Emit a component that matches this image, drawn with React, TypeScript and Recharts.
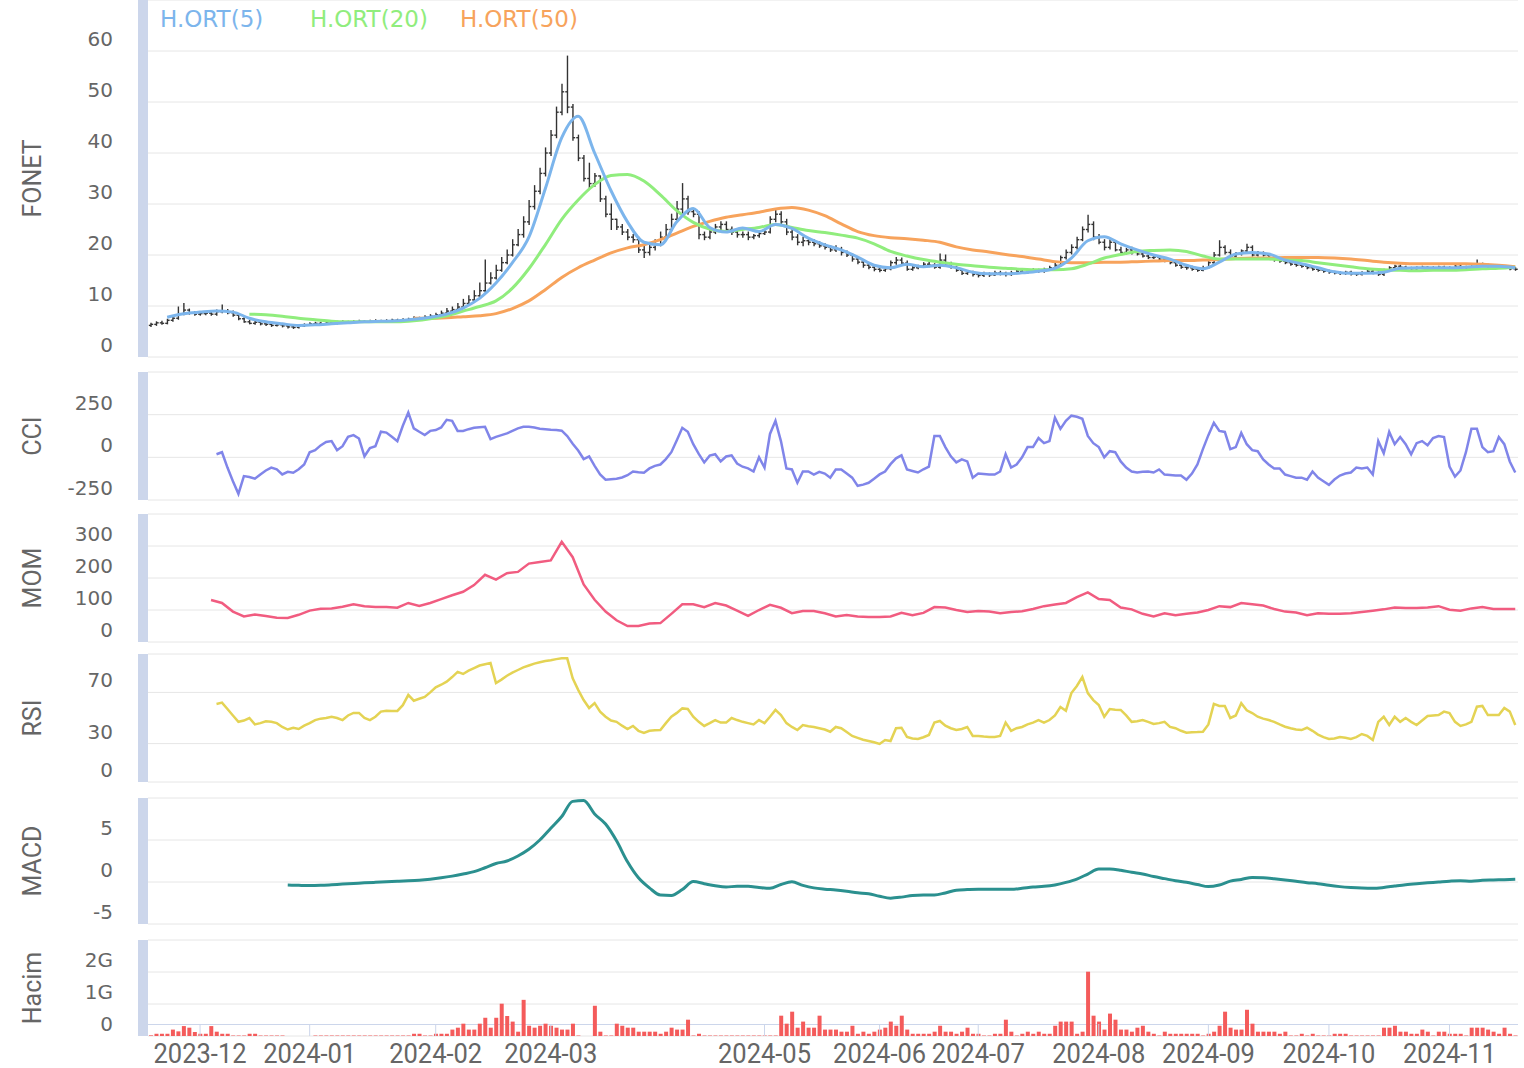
import { Bar, CartesianGrid, ComposedChart, Line, XAxis, YAxis } from 'recharts';

// daily OHLC, 2023-11-20 .. 2024-11-19 (trading days)
const openPrices = [
  6.2, 6.4, 6.7, 6.6, 7.2, 7.6, 8.5, 9.2, 8.6, 8.4,
  8.5, 8.6, 8.4, 8.9, 9.0, 8.7, 8.2, 7.5, 6.9, 6.6,
  6.8, 6.5, 6.4, 6.2, 6.3, 6.1, 5.9, 5.8, 6.1, 6.3,
  6.5, 6.6, 6.5, 6.7, 6.6, 6.8, 6.9, 6.8, 6.9, 7.0,
  6.9, 7.0, 7.1, 7.0, 7.1, 7.2, 7.1, 7.3, 7.4, 7.6,
  7.5, 7.8, 8.0, 8.3, 8.6, 9.0, 9.3, 9.8, 10.5, 11.2,
  12.0, 13.0, 14.5, 15.5, 17.0, 18.5, 20.0, 22.0, 24.0, 26.5,
  29.5, 32.5, 36.0, 40.0, 43.5, 48.0, 52.0, 49.0, 43.0, 39.0,
  35.0, 34.0, 35.5, 31.0, 28.0, 27.0, 25.5, 24.5, 23.5, 23.0,
  21.0, 20.5, 21.5, 22.0, 23.5, 25.0, 27.0, 29.0, 31.0, 28.5,
  28.0, 24.0, 23.5, 24.5, 25.5, 26.0, 25.0, 24.5, 24.0, 24.0,
  23.5, 23.8, 24.2, 24.5, 27.0, 28.0, 26.5, 24.5, 23.5, 22.5,
  22.8, 22.5, 22.2, 21.8, 21.5, 21.0, 21.2, 20.5, 20.0, 19.2,
  18.6, 18.0, 17.6, 17.2, 17.0, 17.3, 18.5, 19.0, 18.4, 17.2,
  17.5, 17.8, 18.2, 18.0, 17.6, 19.0, 18.3, 17.6, 17.0, 16.4,
  16.6, 16.2, 16.0, 16.3, 16.1, 16.5, 16.4, 16.2, 16.5, 16.8,
  16.6, 16.9, 17.0, 16.8, 17.2, 17.5, 18.0, 19.5, 20.5, 21.5,
  23.0, 25.0, 26.0, 23.5, 22.5, 21.5, 22.5, 21.0, 20.5, 21.0,
  20.5, 20.2, 19.8, 19.5, 19.6, 19.2, 19.0, 18.5, 18.0, 17.6,
  17.5, 17.2, 17.0, 17.5, 18.5, 20.0, 21.5, 20.5, 19.8, 20.2,
  20.8, 21.5, 20.0, 20.4, 20.0, 19.5, 19.0, 18.8, 18.5, 18.2,
  18.0, 17.8, 17.5, 17.2, 17.0, 16.8, 16.6, 16.5, 16.4, 16.6,
  16.3, 16.2, 16.5, 16.8, 16.4, 16.2, 17.0, 17.5, 17.8, 17.6,
  17.4, 17.3, 17.5, 17.6, 17.4, 17.5, 17.6, 17.3, 17.5, 17.8,
  17.6, 17.5, 17.7, 18.2, 18.0, 17.8, 17.6, 17.7, 17.5, 17.3,
];
const highPrices = [
  6.6, 6.9, 7.0, 7.4, 7.9, 9.8, 10.5, 9.4, 8.9, 8.8,
  8.9, 8.8, 9.2, 10.2, 9.3, 9.0, 8.4, 7.7, 7.2, 7.0,
  6.9, 6.7, 6.6, 6.5, 6.4, 6.3, 6.1, 6.3, 6.5, 6.7,
  6.8, 6.8, 6.9, 6.9, 7.0, 7.1, 7.0, 7.1, 7.2, 7.1,
  7.2, 7.3, 7.2, 7.3, 7.4, 7.4, 7.5, 7.6, 7.9, 7.8,
  8.1, 8.3, 8.6, 9.0, 9.5, 9.8, 10.5, 11.3, 12.0, 13.0,
  14.5, 19.0, 16.5, 18.0, 19.5, 21.0, 23.0, 25.0, 27.5, 30.7,
  33.6, 37.0, 41.0, 44.4, 49.0, 53.5, 59.0, 49.5, 43.5, 39.5,
  38.0, 36.0, 35.5, 31.5, 30.0, 27.0, 26.0, 25.0, 24.0, 23.5,
  22.0, 22.0, 23.0, 24.5, 26.0, 28.0, 30.5, 34.0, 31.5, 29.0,
  28.5, 24.5, 25.0, 26.0, 26.5, 26.5, 25.5, 25.0, 24.5, 24.5,
  24.0, 24.5, 25.0, 27.5, 29.0, 28.5, 27.0, 25.0, 24.0, 23.5,
  23.2, 23.0, 22.6, 22.2, 21.8, 21.8, 21.5, 20.8, 20.2, 19.5,
  18.9, 18.3, 17.9, 17.5, 17.6, 18.8, 19.5, 19.4, 18.8, 17.8,
  18.0, 18.5, 18.6, 18.3, 20.2, 20.0, 18.6, 17.8, 17.2, 16.9,
  16.8, 16.5, 16.6, 16.5, 16.8, 16.8, 16.6, 16.8, 17.0, 17.1,
  17.1, 17.3, 17.2, 17.4, 17.8, 18.5, 19.8, 21.0, 22.0, 23.5,
  25.5, 27.8, 26.5, 24.0, 23.0, 23.0, 22.8, 21.5, 21.3, 21.5,
  21.0, 20.5, 20.2, 20.0, 19.8, 19.5, 19.2, 18.8, 18.2, 17.9,
  17.8, 17.5, 17.8, 18.8, 20.5, 22.8, 21.8, 21.0, 20.5, 21.0,
  22.1, 21.8, 20.7, 20.6, 20.2, 19.8, 19.3, 19.0, 18.8, 18.5,
  18.2, 18.0, 17.7, 17.4, 17.2, 17.0, 16.8, 16.7, 16.8, 16.8,
  16.5, 16.7, 17.0, 17.0, 16.7, 17.2, 17.7, 18.0, 18.0, 17.8,
  17.6, 17.7, 17.8, 17.7, 17.7, 17.8, 17.8, 17.7, 18.0, 18.0,
  17.8, 17.9, 19.0, 18.4, 18.2, 18.0, 17.9, 17.9, 17.7, 17.5,
];
const lowPrices = [
  6.0, 6.2, 6.4, 6.5, 7.0, 7.4, 8.3, 8.4, 8.2, 8.2,
  8.3, 8.2, 8.2, 8.7, 8.5, 8.0, 7.3, 6.8, 6.5, 6.4,
  6.3, 6.2, 6.0, 6.1, 5.9, 5.7, 5.6, 5.7, 6.0, 6.2,
  6.4, 6.4, 6.4, 6.5, 6.5, 6.7, 6.7, 6.7, 6.8, 6.8,
  6.8, 6.9, 6.9, 6.9, 7.0, 7.0, 7.0, 7.2, 7.3, 7.3,
  7.4, 7.7, 7.9, 8.2, 8.5, 8.9, 9.2, 9.7, 10.3, 11.0,
  11.8, 12.8, 14.3, 15.3, 16.8, 18.3, 19.8, 21.8, 23.5, 26.0,
  29.0, 32.0, 35.5, 39.5, 43.0, 47.5, 47.9, 42.5, 38.5, 34.5,
  33.0, 33.5, 30.5, 27.5, 25.0, 25.0, 24.0, 23.0, 22.5, 20.5,
  19.5, 20.0, 21.0, 21.8, 23.0, 24.8, 26.5, 28.0, 28.0, 27.5,
  23.2, 23.0, 23.2, 24.2, 25.0, 24.5, 24.0, 23.5, 23.5, 23.0,
  23.2, 23.5, 24.0, 24.3, 26.5, 26.0, 24.0, 23.0, 22.0, 21.8,
  22.0, 21.8, 21.5, 21.2, 20.7, 20.7, 20.0, 19.7, 18.8, 18.3,
  17.6, 17.3, 16.9, 16.7, 16.8, 17.1, 18.2, 18.1, 17.0, 17.0,
  17.3, 17.6, 17.7, 17.4, 17.4, 18.0, 17.4, 16.8, 16.2, 16.2,
  15.9, 15.7, 15.8, 15.8, 16.0, 16.1, 15.9, 16.0, 16.3, 16.4,
  16.4, 16.7, 16.6, 16.6, 17.0, 17.3, 17.8, 19.2, 20.2, 21.2,
  22.8, 24.5, 23.0, 22.2, 21.0, 21.2, 20.8, 20.2, 20.2, 20.2,
  20.0, 19.6, 19.3, 19.3, 19.0, 18.7, 18.3, 17.8, 17.4, 17.2,
  17.0, 16.8, 16.9, 17.4, 18.3, 19.8, 20.2, 19.6, 19.6, 20.0,
  20.6, 19.8, 19.8, 19.8, 19.3, 18.8, 18.6, 18.3, 18.0, 17.8,
  17.6, 17.3, 17.0, 16.8, 16.6, 16.4, 16.3, 16.2, 16.2, 16.1,
  16.0, 16.1, 16.4, 16.3, 16.0, 16.0, 16.9, 17.3, 17.4, 17.2,
  17.1, 17.2, 17.4, 17.2, 17.3, 17.4, 17.2, 17.2, 17.4, 17.5,
  17.3, 17.4, 17.6, 17.8, 17.6, 17.4, 17.5, 17.4, 17.1, 17.0,
];
const closePrices = [
  6.4, 6.7, 6.6, 7.2, 7.6, 8.5, 9.2, 8.6, 8.4, 8.5,
  8.6, 8.4, 8.9, 9.0, 8.7, 8.2, 7.5, 6.9, 6.6, 6.8,
  6.5, 6.4, 6.2, 6.3, 6.1, 5.9, 5.8, 6.1, 6.3, 6.5,
  6.6, 6.5, 6.7, 6.6, 6.8, 6.9, 6.8, 6.9, 7.0, 6.9,
  7.0, 7.1, 7.0, 7.1, 7.2, 7.1, 7.3, 7.4, 7.6, 7.5,
  7.8, 8.0, 8.3, 8.6, 9.0, 9.3, 9.8, 10.5, 11.2, 12.0,
  13.0, 14.5, 15.5, 17.0, 18.5, 20.0, 22.0, 24.0, 26.5, 29.5,
  32.5, 36.0, 40.0, 43.5, 48.0, 52.0, 49.0, 43.0, 39.0, 35.0,
  34.0, 35.5, 31.0, 28.0, 27.0, 25.5, 24.5, 23.5, 23.0, 21.0,
  20.5, 21.5, 22.0, 23.5, 25.0, 27.0, 29.0, 31.0, 28.5, 28.0,
  24.0, 23.5, 24.5, 25.5, 26.0, 25.0, 24.5, 24.0, 24.0, 23.5,
  23.8, 24.2, 24.5, 27.0, 28.0, 26.5, 24.5, 23.5, 22.5, 22.8,
  22.5, 22.2, 21.8, 21.5, 21.0, 21.2, 20.5, 20.0, 19.2, 18.6,
  18.0, 17.6, 17.2, 17.0, 17.3, 18.5, 19.0, 18.4, 17.2, 17.5,
  17.8, 18.2, 18.0, 17.6, 19.0, 18.3, 17.6, 17.0, 16.4, 16.6,
  16.2, 16.0, 16.3, 16.1, 16.5, 16.4, 16.2, 16.5, 16.8, 16.6,
  16.9, 17.0, 16.8, 17.2, 17.5, 18.0, 19.5, 20.5, 21.5, 23.0,
  25.0, 26.0, 23.5, 22.5, 21.5, 22.5, 21.0, 20.5, 21.0, 20.5,
  20.2, 19.8, 19.5, 19.6, 19.2, 19.0, 18.5, 18.0, 17.6, 17.5,
  17.2, 17.0, 17.5, 18.5, 20.0, 21.5, 20.5, 19.8, 20.2, 20.8,
  21.5, 20.0, 20.4, 20.0, 19.5, 19.0, 18.8, 18.5, 18.2, 18.0,
  17.8, 17.5, 17.2, 17.0, 16.8, 16.6, 16.5, 16.4, 16.6, 16.3,
  16.2, 16.5, 16.8, 16.4, 16.2, 17.0, 17.5, 17.8, 17.6, 17.4,
  17.3, 17.5, 17.6, 17.4, 17.5, 17.6, 17.3, 17.5, 17.8, 17.6,
  17.5, 17.7, 18.2, 18.0, 17.8, 17.6, 17.7, 17.5, 17.3, 17.2,
];
// volume in millions of shares
const volumeMillions = [
  20, 70, 70, 70, 200, 145, 310, 260, 125, 70,
  70, 310, 135, 70, 70, 15, 15, 15, 70, 70,
  15, 15, 15, 15, 15, 0, 0, 0, 0, 0,
  15, 15, 15, 15, 15, 15, 15, 15, 15, 15,
  15, 15, 15, 15, 15, 15, 15, 15, 70, 70,
  15, 15, 70, 70, 70, 200, 260, 385, 200, 200,
  385, 570, 260, 570, 1010, 625, 450, 135, 1130, 320,
  260, 320, 385, 320, 260, 200, 200, 385, 15, 0,
  0, 945, 135, 15, 15, 385, 320, 260, 260, 135,
  135, 135, 135, 70, 135, 260, 200, 200, 510, 15,
  70, 15, 15, 15, 15, 15, 15, 15, 15, 15,
  15, 15, 15, 15, 15, 635, 385, 760, 260, 450,
  260, 260, 635, 200, 200, 200, 135, 135, 320, 70,
  135, 70, 135, 200, 260, 450, 320, 635, 200, 70,
  70, 70, 70, 135, 320, 135, 135, 70, 135, 260,
  70, 70, 15, 15, 70, 70, 510, 135, 15, 70,
  135, 70, 135, 70, 70, 320, 450, 450, 450, 70,
  135, 2010, 635, 450, 200, 700, 510, 200, 200, 135,
  260, 320, 135, 70, 15, 135, 70, 70, 70, 70,
  70, 70, 15, 70, 135, 320, 760, 260, 200, 200,
  820, 385, 135, 135, 135, 135, 70, 135, 15, 15,
  70, 15, 70, 15, 15, 15, 70, 70, 70, 15,
  15, 15, 15, 15, 15, 260, 260, 320, 135, 135,
  70, 70, 200, 135, 15, 135, 135, 70, 70, 70,
  15, 260, 260, 260, 200, 135, 70, 260, 70, 15,
];

// moving averages, read every 3rd day
const ma5Values = [
  7.8, 8.5, 8.8, 9.0, 8.8, 7.6, 6.9, 6.5, 6.2, 6.3,
  6.5, 6.7, 6.9, 7.0, 7.1, 7.4, 7.8, 8.4, 9.6, 11.5,
  14.5, 18.5, 23.5, 33.0, 43.0, 47.2, 40.0, 32.6, 26.5, 22.5,
  22.0, 26.5, 29.1, 25.4, 24.5, 25.3, 24.6, 26.0, 25.2, 23.3,
  22.0, 21.0, 19.6, 18.0, 17.5, 18.2, 17.7, 18.0, 17.5, 16.6,
  16.3, 16.3, 16.5, 16.8, 17.4, 19.4, 22.8, 23.6, 22.2, 21.0,
  20.0, 19.2, 18.0, 17.3, 18.6, 20.2, 20.5, 20.2, 19.0, 18.3,
  17.5, 16.7, 16.4, 16.4, 16.6, 17.4, 17.5, 17.5, 17.5, 17.6,
  17.8, 17.8, 17.5,
];
const ma20Values = [
  8.4, 8.3, 8.0, 7.6, 7.3, 7.0, 6.9, 6.9, 6.9, 6.9,
  7.1, 7.5, 8.1, 9.0, 9.9, 11.0, 13.5, 17.3, 22.0, 27.0,
  30.8, 33.8, 35.6, 35.8, 34.5, 31.8, 28.7, 26.4, 25.1, 24.6,
  25.0, 25.4, 26.0, 25.4, 24.8, 24.4, 23.9, 23.3, 22.2, 20.7,
  19.8, 19.1, 18.6, 18.2, 17.9, 17.6, 17.4, 17.2, 17.1, 17.1,
  17.3, 18.2, 19.4, 20.1, 20.7, 20.9, 21.0, 20.7, 19.8, 19.2,
  19.2, 19.2, 19.2, 19.0, 18.9, 18.5, 18.1, 17.7, 17.3, 17.1,
  17.0, 16.9, 17.0, 17.0, 17.1, 17.3, 17.4, 17.6,
];
const ma50Values = [
  7.6, 7.6, 7.7, 7.9, 8.1, 8.5, 9.5, 11.0, 13.2, 15.6,
  17.5, 19.0, 20.4, 21.4, 22.0, 23.0, 24.3, 25.6, 26.6, 27.4,
  27.9, 28.4, 29.0, 29.3, 28.8, 27.7, 26.1, 24.6, 23.8, 23.4,
  23.2, 22.9, 22.5, 21.6, 21.0, 20.6, 20.1, 19.7, 19.2, 18.7,
  18.5, 18.5, 18.6, 18.6, 18.7, 18.8, 18.9, 18.9, 19.0, 19.1,
  19.3, 19.4, 19.4, 19.5, 19.5, 19.5, 19.4, 19.2, 18.9, 18.6,
  18.4, 18.3, 18.3, 18.3, 18.3, 18.2, 18.0, 17.7,
];

// daily from day 12
const cciValues = [
  18, 30, -60, -140, -214, -110, -115, -125, -100, -77,
  -60, -70, -100, -85, -90, -70, -42, 30, 42, 70,
  90, 95, 42, 65, 120, 130, 110, 6, 55, 65,
  150, 145, 120, 95, 185, 262, 170, 150, 131, 155,
  160, 175, 220, 214, 155, 155, 165, 173, 176, 179,
  107, 120, 130, 140, 155, 170, 179, 179, 175, 168,
  165, 162, 160, 156, 125, 80, 40, -10, 6, -50,
  -100, -131, -128, -125, -118, -105, -83, -88, -90, -65,
  -50, -42, -10, 30, 100, 173, 150, 77, 20, -30,
  10, 18, -24, 5, 12, -36, -55, -65, -83, 0,
  -60, 137, 214, 95, -65, -71, -149, -83, -83, -101,
  -85, -95, -119, -71, -71, -95, -119, -167, -160, -149,
  -125, -100, -83, -40, -6, 12, -71, -80, -89, -70,
  -54, 125, 125, 60, 6, -30, -12, -24, -119, -95,
  -98, -101, -101, -83, 18, -60, -42, 0, 60, 60,
  113, 83, 95, 232, 167, 214, 244, 238, 226, 125,
  83, 60, 0, 36, 30, -24, -60, -83, -89, -85,
  -83, -89, -71, -101, -104, -107, -107, -131, -95, -42,
  48, 130, 202, 155, 149, 48, 60, 143, 77, 42,
  36, -12, -42, -65, -65, -101, -110, -119, -119, -131,
  -83, -119, -140, -161, -130, -107, -95, -89, -60, -65,
  -60, -101, 95, 24, 149, 77, 119, 77, 18, 83,
  95, 71, 113, 125, 119, -54, -113, -77, 30, 167,
  167, 60, 30, 36, 119, 77, -24, -89,
];
// every 2nd day from day 11
const momValues = [
  131, 122, 95, 80, 86, 81, 76, 75, 85, 98,
  104, 105, 110, 118, 112, 109, 109, 107, 122, 113,
  122, 134, 146, 157, 178, 210, 195, 215, 219, 245,
  250, 255, 313, 265, 180, 132, 95, 68, 50, 50,
  58, 59, 88, 118, 118, 109, 122, 114, 98, 82,
  100, 116, 107, 90, 97, 97, 90, 80, 84, 80,
  78, 78, 80, 91, 84, 91, 109, 108, 100, 94,
  97, 95, 90, 94, 96, 103, 112, 117, 122, 140,
  155, 134, 131, 108, 102, 88, 80, 90, 84, 88,
  92, 100, 112, 109, 122, 118, 114, 103, 95, 92,
  84, 90, 88, 88, 90, 94, 98, 102, 108, 106,
  106, 108, 112, 101, 98, 105, 109, 103, 103, 103,
];
// daily from day 12
const rsiValues = [
  61, 62, 57, 52, 47, 48, 50, 45, 46, 47.5,
  47, 46, 43, 41, 42.4, 41.4, 44, 46, 48.4, 49.5,
  50, 51, 50, 48.4, 52, 54, 54, 50, 48.4, 51,
  55, 55.7, 55.5, 55.5, 60, 68, 63.5, 65, 66.4, 70,
  74, 76, 78.4, 82, 86, 84.4, 87, 89, 91, 92,
  93, 77.3, 80, 83, 85.4, 87.5, 89.5, 91, 92.5, 93.5,
  94.5, 95.2, 96, 96.6, 96.6, 81, 72, 64, 57.8, 61.6,
  55, 51, 48, 47, 44, 41.4, 43.8, 40, 38.3, 40,
  40.4, 40.6, 46, 51, 54, 57.5, 57, 51, 47, 43.8,
  46, 48.4, 46.4, 46.4, 50, 48.4, 47, 46, 45, 48.4,
  46, 51, 56.3, 52.3, 46, 43, 40.6, 44.5, 43.5, 43,
  42, 41, 39.3, 43, 42, 39, 36, 34.5, 33, 32,
  31, 29.7, 32.8, 32, 42, 42.4, 35.2, 34, 33.6, 35,
  36.7, 46.4, 47.7, 44, 42, 40.6, 41.4, 43, 36, 36,
  35.5, 35.2, 35.2, 36, 46.4, 40, 42, 43, 45, 46.4,
  48.4, 46.4, 48.4, 52, 58.6, 55.7, 69.5, 75, 82, 69.5,
  64, 60.2, 51, 57, 56.5, 56.3, 52, 47, 47.5, 48.4,
  47, 45.3, 46, 47, 43, 42, 40, 38.5, 38.8, 39,
  39.3, 45, 61, 59.4, 59.4, 50, 52, 61.6, 56, 53.9,
  51, 49.5, 48.4, 47, 45, 43.2, 42, 41, 40.6, 42.4,
  40, 37, 35, 33.6, 34, 35.2, 34.5, 33.6, 35, 37.5,
  36, 32.8, 47, 51, 44.5, 51, 47, 50, 47, 44.5,
  48, 51.6, 52, 52.3, 55, 53.9, 47, 43.8, 45, 47,
  58.8, 59.4, 52.3, 52.3, 52.3, 57.8, 55, 44.5,
];
// every 2nd day from day 25
const macdValues = [
  -0.36, -0.4, -0.43, -0.4, -0.33, -0.25, -0.18, -0.1, -0.04, 0.02,
  0.08, 0.14, 0.22, 0.34, 0.5, 0.7, 0.95, 1.23, 1.7, 2.2,
  2.5, 3.1, 3.9, 5.0, 6.4, 7.8, 9.6, 9.7, 8.1, 6.9,
  4.9, 2.4, 0.5, -0.7, -1.55, -1.6, -0.9, 0.05, -0.2, -0.45,
  -0.6, -0.5, -0.5, -0.65, -0.75, -0.3, 0.02, -0.4, -0.7, -0.85,
  -0.95, -1.1, -1.28, -1.4, -1.7, -1.92, -1.8, -1.6, -1.55, -1.55,
  -1.3, -0.98, -0.9, -0.85, -0.85, -0.87, -0.87, -0.75, -0.6, -0.52,
  -0.35, -0.05, 0.35, 0.95, 1.55, 1.55, 1.4, 1.15, 0.95, 0.65,
  0.4, 0.15, -0.04, -0.3, -0.55, -0.35, 0.1, 0.3, 0.55, 0.5,
  0.38, 0.24, 0.08, -0.08, -0.2, -0.4, -0.55, -0.65, -0.72, -0.75,
  -0.65, -0.48, -0.32, -0.2, -0.1, 0.0, 0.1, 0.16, 0.1, 0.2,
  0.24, 0.28, 0.32,
];

const monthTicks = [9, 29, 52, 73, 112, 133, 151, 173, 193, 215, 237];
const monthLabels = ['2023-12', '2024-01', '2024-02', '2024-03', '2024-05', '2024-06', '2024-07', '2024-08', '2024-09', '2024-10', '2024-11'];

const maNames = ['H.ORT(5)', 'H.ORT(20)', 'H.ORT(50)'];
const maColors = ['#7cb5ec', '#90ed7d', '#f7a35c'];

const WIDTH = 1524;
const PLOT_LEFT = 148;
const RIGHT_GAP = 6;
const PAD = 4;
const DATE_AXIS_HEIGHT = 40;
const FRAME = '#ccd6eb';
const GRID = '#e6e6e6';
const LABEL = '#666666';
const SANS = "'DejaVu Sans', sans-serif";
const NARROW = "Roboto, 'Noto Sans', sans-serif";

const N = closePrices.length;

function spread(values: number[], start: number, step: number) {
  const out: Record<number, number> = {};
  values.forEach((v, k) => {
    out[start + k * step] = v;
  });
  return out;
}

const ma5At = spread(ma5Values, 3, 3);
const ma20At = spread(ma20Values, 18, 3);
const ma50At = spread(ma50Values, 48, 3);
const cciAt = spread(cciValues, 12, 1);
const momAt = spread(momValues, 11, 2);
const rsiAt = spread(rsiValues, 12, 1);
const macdAt = spread(macdValues, 25, 2);

const rows = closePrices.map((close, i) => ({
  i,
  open: openPrices[i],
  high: highPrices[i],
  low: lowPrices[i],
  close,
  range: [lowPrices[i], highPrices[i]],
  volume: volumeMillions[i] * 1e6,
  ma5: ma5At[i] ?? null,
  ma20: ma20At[i] ?? null,
  ma50: ma50At[i] ?? null,
  cci: cciAt[i] ?? null,
  mom: momAt[i] ?? null,
  rsi: rsiAt[i] ?? null,
  macd: macdAt[i] ?? null,
}));

const monthLabelAt = new Map(monthTicks.map((t, k) => [t, monthLabels[k]]));

function OhlcMark(props: any) {
  const { x, y, width, height, payload } = props;
  if (x == null || y == null) return null;
  const cx = x + width / 2;
  const span = payload.high - payload.low;
  const k = span > 0 ? height / span : 0;
  const yOpen = y + (payload.high - payload.open) * k;
  const yClose = y + (payload.high - payload.close) * k;
  return (
    <g stroke="#333" strokeWidth={1.4}>
      <line x1={cx} x2={cx} y1={y - 0.5} y2={y + height + 0.5} />
      <line x1={cx - 2.2} x2={cx} y1={yOpen} y2={yOpen} />
      <line x1={cx} x2={cx + 2.2} y1={yClose} y2={yClose} />
    </g>
  );
}

function MonthTick(props: any) {
  const { x, y, payload } = props;
  return (
    <g>
      <line x1={x} x2={x} y1={y - 12} y2={y} stroke={FRAME} strokeWidth={1} />
      <text
        x={x}
        y={y + 18}
        textAnchor="middle"
        dominantBaseline="central"
        fill={LABEL}
        fontSize={27}
        fontFamily={NARROW}
        textLength={93}
        lengthAdjust="spacingAndGlyphs"
      >
        {monthLabelAt.get(payload.value)}
      </text>
    </g>
  );
}

function yTick(format: (v: number) => string, hidden: number[] = []) {
  return (props: any) => {
    const { x, y, payload } = props;
    if (hidden.includes(payload.value)) return <g />;
    return (
      <text x={x} y={y - 12} dy="0.35em" textAnchor="end" fill={LABEL} fontSize={20} fontFamily={SANS}>
        {format(payload.value)}
      </text>
    );
  };
}

function PaneTitle(props: any) {
  const vb = props.viewBox ?? { x: 0, y: 0, width: 0, height: 0 };
  const cx = vb.x + 32;
  const cy = vb.y + vb.height / 2;
  return (
    <text x={cx} y={cy} transform={`rotate(-90 ${cx} ${cy})`} textAnchor="middle" dominantBaseline="central" fill={LABEL} fontSize={25} fontFamily={NARROW}>
      {props.text}
    </text>
  );
}

function Pane({
  top,
  plotHeight,
  title,
  domain,
  ticks,
  format,
  hidden,
  showDates = false,
  children,
}: {
  top: number;
  plotHeight: number;
  title: string;
  domain: [number, number];
  ticks: number[];
  format: (v: number) => string;
  hidden?: number[];
  showDates?: boolean;
  children: React.ReactNode;
}) {
  const chartHeight = PAD + plotHeight + (showDates ? DATE_AXIS_HEIGHT : PAD);
  return (
    <div style={{ position: 'absolute', left: 0, top: top - PAD, width: WIDTH, height: chartHeight }}>
      <div style={{ position: 'absolute', left: PLOT_LEFT - 10, top: PAD, width: 10, height: plotHeight, background: FRAME }} />
      {showDates && (
        <div
          style={{
            position: 'absolute',
            left: PLOT_LEFT,
            top: PAD + plotHeight - 12,
            width: WIDTH - PLOT_LEFT - RIGHT_GAP,
            height: 1,
            background: FRAME,
          }}
        />
      )}
      <ComposedChart
        width={WIDTH}
        height={chartHeight}
        data={rows}
        margin={{ top: PAD, right: RIGHT_GAP, bottom: showDates ? 0 : PAD, left: 0 }}
      >
        <CartesianGrid vertical={false} stroke={GRID} />
        <XAxis
          dataKey="i"
          type="number"
          domain={[-0.5, N - 0.5]}
          ticks={showDates ? monthTicks : undefined}
          interval={0}
          hide={!showDates}
          height={DATE_AXIS_HEIGHT}
          axisLine={false}
          tickLine={false}
          tickSize={0}
          tickMargin={0}
          tick={<MonthTick />}
        />
        <YAxis
          width={PLOT_LEFT}
          domain={domain}
          ticks={ticks}
          interval={0}
          axisLine={false}
          tickLine={false}
          tickSize={0}
          tickMargin={35}
          tick={yTick(format, hidden)}
          label={<PaneTitle text={title} />}
        />
        {children}
      </ComposedChart>
    </div>
  );
}

const plain = (v: number) => String(v);
const giga = (v: number) => (v === 0 ? '0' : `${v / 1e9}G`);

export default function App() {
  return (
    <div style={{ position: 'absolute', left: 0, top: 0, width: WIDTH, height: 1068, background: '#fff' }}>
      <Pane top={0} plotHeight={357} title="FONET" domain={[0, 70]} ticks={[0, 10, 20, 30, 40, 50, 60]} format={plain}>
        <Bar dataKey="range" barSize={4} shape={<OhlcMark />} isAnimationActive={false} />
        <Line dataKey="ma50" type="monotone" stroke={maColors[2]} strokeWidth={3} dot={false} activeDot={false} connectNulls isAnimationActive={false} />
        <Line dataKey="ma20" type="monotone" stroke={maColors[1]} strokeWidth={3} dot={false} activeDot={false} connectNulls isAnimationActive={false} />
        <Line dataKey="ma5" type="monotone" stroke={maColors[0]} strokeWidth={3} dot={false} activeDot={false} connectNulls isAnimationActive={false} />
      </Pane>
      <div style={{ position: 'absolute', left: 160, top: 6, display: 'flex', fontFamily: SANS, fontSize: 23, lineHeight: '26px' }}>
        {maNames.map((name, k) => (
          <span key={name} style={{ color: maColors[k], width: 150 }}>
            {name}
          </span>
        ))}
      </div>
      <Pane top={372} plotHeight={128} title="CCI" domain={[-250, 500]} ticks={[-250, 0, 250, 500]} format={plain} hidden={[500]}>
        <Line dataKey="cci" type="linear" stroke="#8085e9" strokeWidth={2.5} dot={false} activeDot={false} connectNulls isAnimationActive={false} />
      </Pane>
      <Pane top={514} plotHeight={128} title="MOM" domain={[0, 400]} ticks={[0, 100, 200, 300, 400]} format={plain} hidden={[400]}>
        <Line dataKey="mom" type="linear" stroke="#f15c80" strokeWidth={2.5} dot={false} activeDot={false} connectNulls isAnimationActive={false} />
      </Pane>
      <Pane top={654} plotHeight={128} title="RSI" domain={[0, 100]} ticks={[0, 30, 70, 100]} format={plain} hidden={[100]}>
        <Line dataKey="rsi" type="linear" stroke="#e4d354" strokeWidth={2.5} dot={false} activeDot={false} connectNulls isAnimationActive={false} />
      </Pane>
      <Pane top={798} plotHeight={126} title="MACD" domain={[-5, 10]} ticks={[-5, 0, 5, 10]} format={plain} hidden={[10]}>
        <Line dataKey="macd" type="monotone" stroke="#2b908f" strokeWidth={3} dot={false} activeDot={false} connectNulls isAnimationActive={false} />
      </Pane>
      <Pane top={940} plotHeight={96} title="Hacim" domain={[0, 3e9]} ticks={[0, 1e9, 2e9, 3e9]} format={giga} hidden={[3e9]} showDates>
        <Bar dataKey="volume" barSize={4} fill="#f45b5b" isAnimationActive={false} />
      </Pane>
    </div>
  );
}
